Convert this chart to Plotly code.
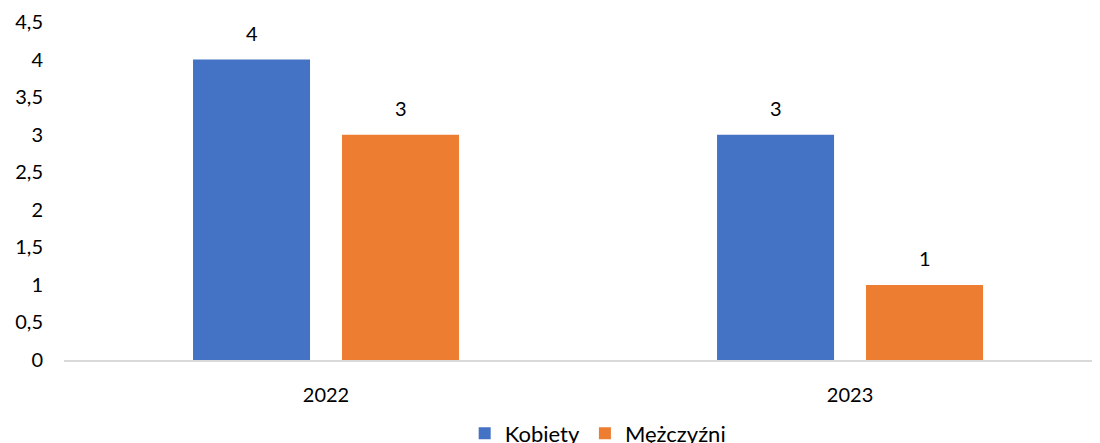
import plotly.graph_objects as go

categories = ["2022", "2023"]
kobiety = [4, 3]
mezczyzni = [3, 1]
series_names = ["Kobiety", "Mężczyźni"]
y_tick_vals = [0, 0.5, 1, 1.5, 2, 2.5, 3, 3.5, 4, 4.5]
y_tick_labels = ["0", "0,5", "1", "1,5", "2", "2,5", "3", "3,5", "4", "4,5"]

colors = ["#4472C4", "#ED7D31"]
FONT = "Lato"
bar_width = 0.2233
bar_offsets = [-0.2538, 0.0305]

fig = go.Figure()
for name, vals, col, off in zip(series_names, [kobiety, mezczyzni], colors, bar_offsets):
    fig.add_trace(go.Bar(x=categories, y=vals, name=name, marker_color=col,
                         marker_line_width=0, width=bar_width, offset=off))

# data labels above bars
for vals, off in zip([kobiety, mezczyzni], bar_offsets):
    for ci, v in enumerate(vals):
        fig.add_annotation(x=ci + off + bar_width / 2, y=v, text=str(v), showarrow=False,
                           yanchor="bottom", yshift=13, xref="x", yref="y",
                           font=dict(family=FONT, size=20, color="#000000"))

fig.update_layout(
    width=1092, height=435,
    margin=dict(l=56, r=0, t=14, b=83),
    paper_bgcolor="white", plot_bgcolor="white",
    barmode="overlay",
    font=dict(family=FONT, size=20, color="#000000"),
    showlegend=True,
    legend=dict(orientation="h", x=0.54, xanchor="center", xref="container",
                y=0.07, yanchor="top", yref="container",
                font=dict(family=FONT, size=22, color="#000000"),
                itemwidth=30, traceorder="normal"),
)
fig.update_xaxes(type="category", range=[-0.5, 1.477], showline=True, automargin=False,
                 linecolor="#D9D9D9", linewidth=2, showgrid=False, ticks="",
                 ticklabelstandoff=16, tickfont=dict(family=FONT, size=20))
fig.update_yaxes(range=[0, 4.5], tickvals=y_tick_vals, ticktext=y_tick_labels, automargin=False,
                 showgrid=False, zeroline=False, showline=False, ticks="",
                 ticklabelstandoff=20, tickfont=dict(family=FONT, size=20))

fig.write_html("out.html")
